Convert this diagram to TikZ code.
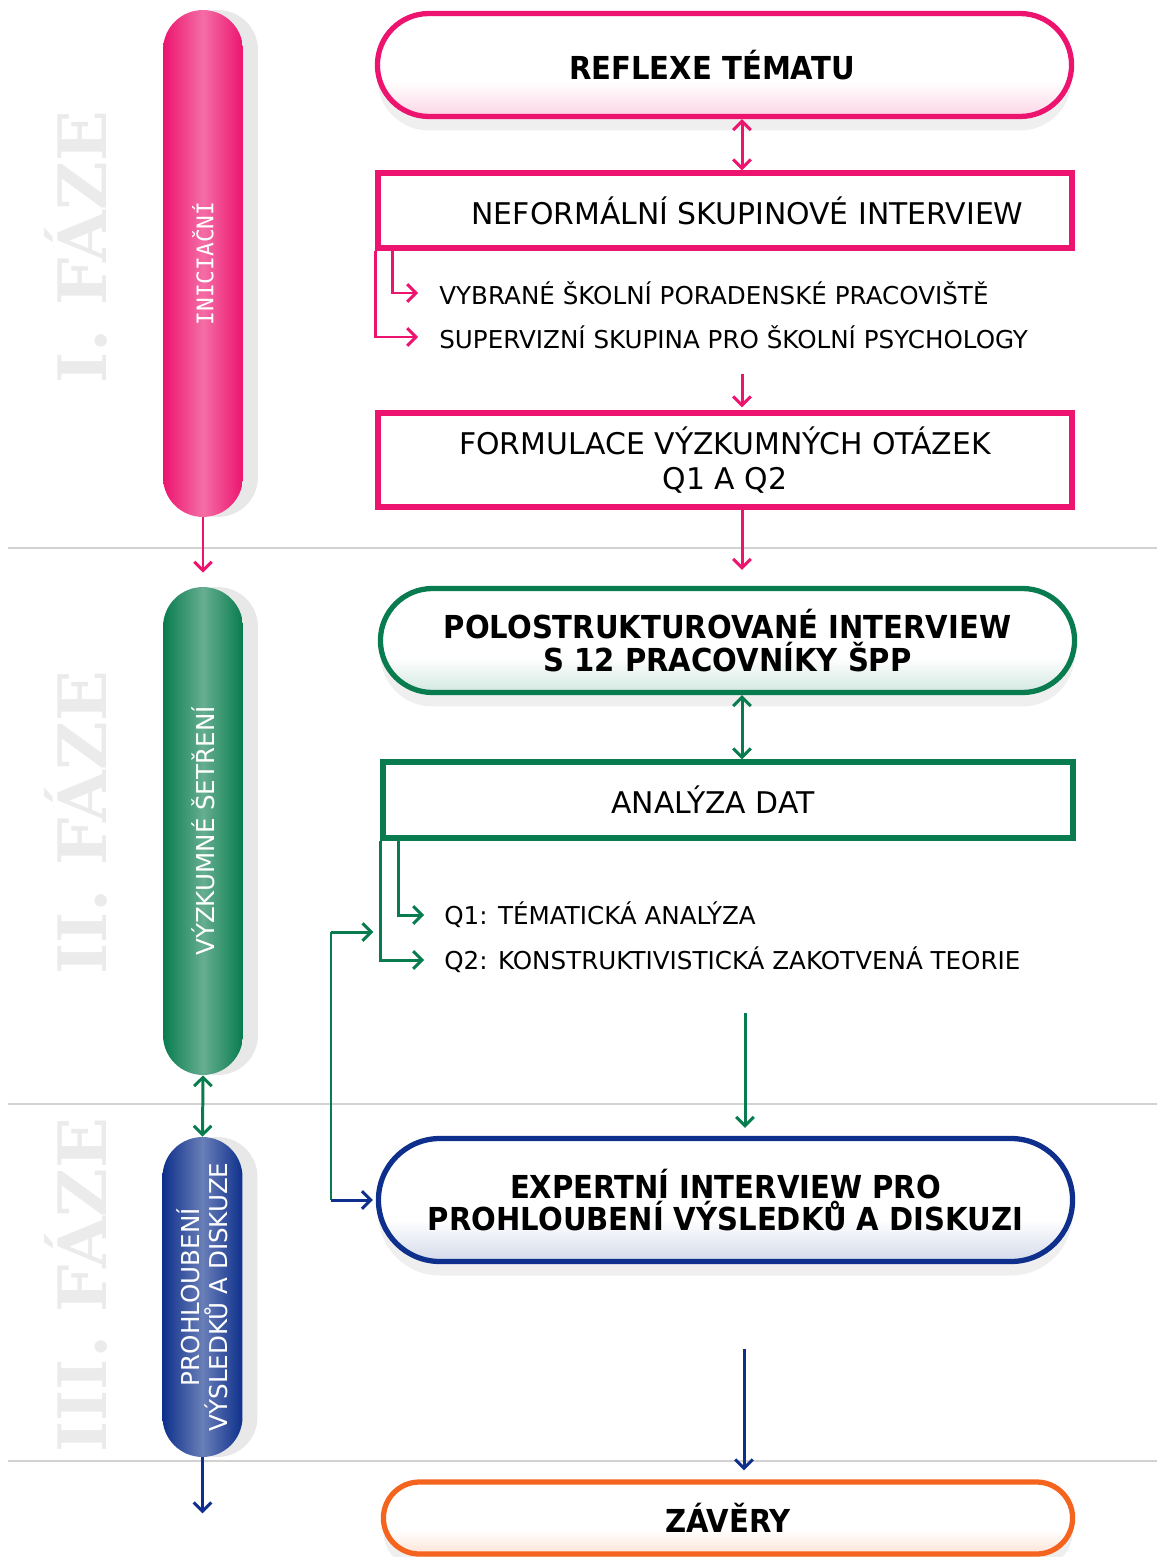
\documentclass[tikz,border=0pt]{standalone}
\usepackage{fontspec}
\setmainfont{DejaVu Sans}
\newfontfamily\headfont{DejaVu Sans}[FakeStretch=0.92]
\newfontfamily\phasefont{DejaVu Serif}
\newfontfamily\pillmono{DejaVu Sans Mono}
\usetikzlibrary{calc, positioning, shapes.misc, shadows, arrows.meta}

\definecolor{pinkc}{RGB}{237,20,111}
\definecolor{greenc}{RGB}{8,124,78}
\definecolor{bluec}{RGB}{14,48,140}
\definecolor{orangec}{RGB}{245,100,30}
\colorlet{captint}{white}

% tint only in the lower part of the capsules
\pgfdeclareverticalshading[captint]{capsule shade}{100bp}{color(0bp)=(captint); color(25bp)=(captint); color(42bp)=(white); color(100bp)=(white)}

\tikzset{
	>={Straight Barb[length=5pt,width=10pt]},
	phase/.style={rotate=90, text=gray!16, inner sep=0pt,
		font=\phasefont\bfseries\fontsize{38pt}{40pt}\selectfont},
	sepline/.style={draw=gray!35, line width=1.2pt},
	pill/.style={rectangle, rounded corners=0.8cm, minimum width=1.6cm,
		left color=#1, right color=#1, middle color=#1!62!white,
		drop shadow={shadow xshift=0.3cm, shadow yshift=0cm, opacity=0.18}},
	pilltext/.style={rotate=90, text=white, align=center,
		font=\fontsize{14pt}{16pt}\selectfont},
	capsule/.style={rounded rectangle, draw=#1, line width=3pt,
		/utils/exec={\colorlet{captint}{#1!18}}, shading=capsule shade,
		align=center, font=\headfont\bfseries\fontsize{18pt}{18.7pt}\selectfont,
		drop shadow={shadow xshift=0cm, shadow yshift=-0.28cm, opacity=0.13}},
	box/.style={rectangle, draw=#1, line width=3pt, fill=white,
		align=center, font=\fontsize{17pt}{20pt}\selectfont},
	item/.style={anchor=west, inner sep=0pt, font=\fontsize{14pt}{16pt}\selectfont},
	flow/.style={draw=#1, line width=1.7pt}
}

\begin{document}
\begin{tikzpicture}[x=0.02cm, y=-0.02cm]
	\useasboundingbox (0,0) rectangle (1157,1557);

	% phase separators
	\draw[sepline] (8,548) -- (1157,548);
	\draw[sepline] (8,1104) -- (1157,1104);
	\draw[sepline] (8,1461) -- (1157,1461);

	% phase captions
	\node[phase] (phase1) at (76,247) {I. FÁZE};
	\node[phase] (phase2) at (76,823) {II. FÁZE};
	\node[phase] (phase3) at (76,1285) {III. FÁZE};

	% left column
	\node[pill=pinkc, minimum height=10.14cm,
		label={[pilltext, font=\pillmono\fontsize{13pt}{15pt}\selectfont]center:INICIAČNÍ}]
		(init) at (203,263.5) {};
	\node[pill=greenc, minimum height=9.76cm,
		label={[pilltext]center:VÝZKUMNÉ ŠETŘENÍ}]
		(survey) at (203,831) {};
	\node[pill=bluec, minimum height=6.4cm,
		label={[pilltext]center:PROHLOUBENÍ\\VÝSLEDKŮ A DISKUZE}]
		(deepen) at (202.5,1297) {};

	% right column
	\node[capsule=pinkc, minimum width=14.12cm, minimum height=2.06cm]
		(reflex) at (724.5,65) {REFLEXE TÉMATU\hspace*{0.5cm}};
	\node[box=pinkc, minimum width=13.88cm, minimum height=1.5cm]
		(informal) at (725,210.5) {\hspace*{0.9cm}NEFORMÁLNÍ SKUPINOVÉ INTERVIEW};
	\node[item] (school) at (439,293) {VYBRANÉ ŠKOLNÍ PORADENSKÉ PRACOVIŠTĚ};
	\node[item] (superv) at (439,337) {SUPERVIZNÍ SKUPINA PRO ŠKOLNÍ PSYCHOLOGY};
	\node[box=pinkc, minimum width=13.88cm, minimum height=1.88cm]
		(questions) at (725,460) {FORMULACE VÝZKUMNÝCH OTÁZEK\\Q1 A Q2};

	\node[capsule=greenc, minimum width=14.12cm, minimum height=2.08cm]
		(semi) at (727.5,640.5) {POLOSTRUKTUROVANÉ INTERVIEW\\S 12 PRACOVNÍKY ŠPP};
	\node[box=greenc, minimum width=13.8cm, minimum height=1.52cm]
		(analysis) at (728,800) {ANALÝZA DAT\hspace*{0.6cm}};
	\node[item] (qone) at (444,915) {Q1: TÉMATICKÁ ANALÝZA};
	\node[item] (qtwo) at (444,960) {Q2: KONSTRUKTIVISTICKÁ ZAKOTVENÁ TEORIE};

	\node[capsule=bluec, minimum width=14.12cm, minimum height=2.46cm]
		(expert) at (725.5,1200) {EXPERTNÍ INTERVIEW PRO\\PROHLOUBENÍ VÝSLEDKŮ A DISKUZI};
	\node[capsule=orangec, minimum width=14.02cm, minimum height=1.44cm]
		(concl) at (728,1518) {ZÁVĚRY};

	\coordinate (col) at (742,0);
	\coordinate (loop) at (331,932);

	% connectors, left column
	\draw[flow=pinkc, ->, shorten >=0.28cm] (init.south) -- (survey.north);
	\draw[flow=greenc, <->] (survey.south) -- (deepen.north);
	\draw[flow=bluec, ->] (deepen.south) -- ++(0,56);

	% connectors, right column
	\draw[flow=pinkc, <->] (reflex.south -| col) -- (informal.north -| col);
	\draw[flow=pinkc, ->, shorten >=0.42cm] ($(informal.south west)+(17,0)$) |- (school.west);
	\draw[flow=pinkc, ->, shorten >=0.42cm] (informal.south west) |- (superv.west);
	\draw[flow=pinkc, ->, shorten >=0.06cm] ($(superv.south -| col)+(0,25)$) -- (questions.north -| col);
	\draw[flow=pinkc, ->, shorten >=0.32cm] (questions.south -| col) -- (semi.north -| col);

	\draw[flow=greenc, <->] (semi.south -| col) -- (analysis.north -| col);
	\draw[flow=greenc, ->, shorten >=0.4cm] ($(analysis.south west)+(18,0)$) |- (qone.west);
	\draw[flow=greenc, ->, shorten >=0.4cm] (analysis.south west) |- (qtwo.west);
	\draw[flow=greenc, ->, shorten >=0.16cm] ($(qtwo.south -| col)+(3,40)$) -- ($(expert.north -| col)+(3,0)$);
	\draw[flow=greenc, ->, shorten >=0.14cm] (loop) -- (loop -| analysis.west);
	\draw[flow=greenc] (loop) -- (loop |- expert.west);
	\draw[flow=bluec, ->, shorten >=0.06cm] (loop |- expert.west) -- (expert.west);
	\draw[flow=bluec, ->, shorten >=0.18cm] ($(expert.south -| col)+(2,85)$) -- ($(concl.north -| col)+(2,0)$);
\end{tikzpicture}
\end{document}
